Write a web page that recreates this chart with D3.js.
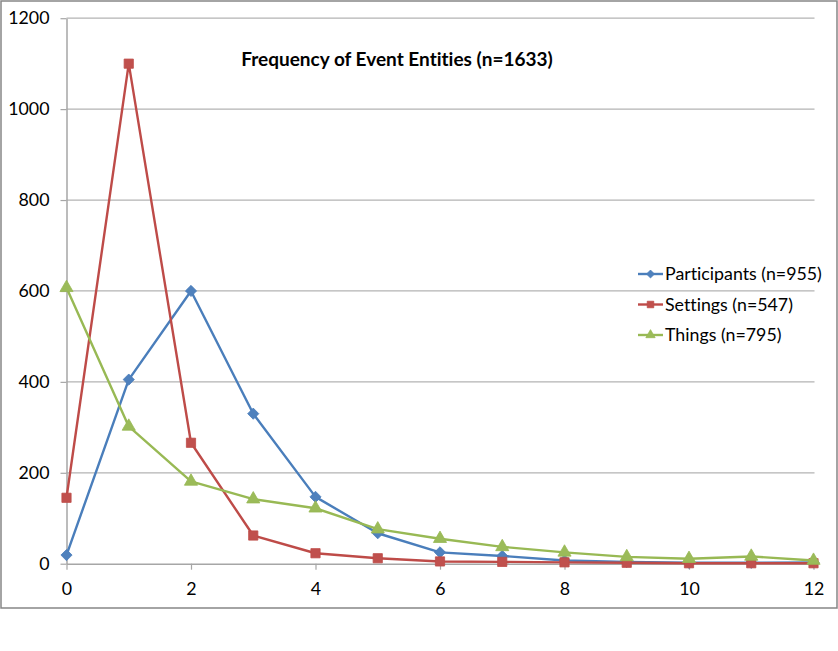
<!DOCTYPE html>
<html>
<head>
<meta charset="utf-8">
<script src="https://cdn.jsdelivr.net/npm/d3@7"></script>
<style>
  body { margin: 0; background: #fff; }
  svg text { font-family: Lato, "Open Sans", sans-serif; fill: #000; font-variant-ligatures: none; }
</style>
</head>
<body>
<svg id="chart" width="838" height="651"></svg>
<script>
'use strict';

/* chart data */
var counts = [0, 1, 2, 3, 4, 5, 6, 7, 8, 9, 10, 11, 12];
var participants = [19, 405, 600, 330, 147, 67, 25, 17, 7, 4, 2, 2, 3];
var settings = [145, 1100, 266, 62, 23, 12, 5, 4, 3, 2, 1, 1, 1];
var things = [607, 302, 181, 142, 122, 76, 55, 37, 25, 15, 11, 16, 7];
var seriesNames = ['Participants (n=955)', 'Settings (n=547)', 'Things (n=795)'];
var xTicks = [0, 2, 4, 6, 8, 10, 12];
var yTicks = [0, 200, 400, 600, 800, 1000, 1200];
var chartTitle = 'Frequency of Event Entities (n=1633)';

var svg = d3.select('#chart');

// outer frame of the chart
svg.append('rect')
  .attr('x', 1).attr('y', 1)
  .attr('width', 836).attr('height', 607)
  .attr('fill', '#fff')
  .attr('stroke', '#868686')
  .attr('stroke-width', 1.5);

var x = d3.scaleLinear().domain([0, 12]).range([66.5, 813.5]);
var y = d3.scaleLinear().domain([0, 1200]).range([563.7, 18.2]);

// horizontal gridlines
svg.append('g')
  .selectAll('line')
  .data(yTicks.slice(1))
  .enter()
  .append('line')
  .attr('x1', 66.5).attr('x2', 814.5)
  .attr('y1', function(d) { return y(d); })
  .attr('y2', function(d) { return y(d); })
  .attr('stroke', '#b3b3b3')
  .attr('stroke-width', 1.2);

// y axis
var yAxis = svg.append('g')
  .attr('transform', 'translate(66.5,0)')
  .call(d3.axisLeft(y).tickValues(yTicks).tickFormat(d3.format('d'))
    .tickSize(6).tickSizeOuter(0).tickPadding(11));
yAxis.selectAll('.tick text').attr('font-size', 17.8);

// x axis
var xAxis = svg.append('g')
  .attr('transform', 'translate(0,563.7)')
  .call(d3.axisBottom(x).tickValues(xTicks).tickSize(6).tickSizeOuter(0).tickPadding(13));
xAxis.selectAll('.tick text').attr('font-size', 17.8);

svg.selectAll('.domain').attr('stroke', '#a6a6a6').attr('stroke-width', 1.5);
svg.selectAll('.tick line').attr('stroke', '#a6a6a6').attr('stroke-width', 1.2);

var series = [
  { name: seriesNames[0], values: participants, line: '#4a7ebb', fill: '#4f81bd', symbol: d3.symbolDiamond2, size: 80 },
  { name: seriesNames[1], values: settings, line: '#be4b48', fill: '#c0504d', symbol: d3.symbolSquare, size: 85 },
  { name: seriesNames[2], values: things, line: '#98b954', fill: '#9bbb59', symbol: d3.symbolTriangle, size: 75 }
];

var line = d3.line()
  .x(function(d, i) { return x(counts[i]); })
  .y(function(d) { return y(d); });

series.forEach(function(s) {
  var g = svg.append('g');
  g.append('path')
    .attr('d', line(s.values))
    .attr('fill', 'none')
    .attr('stroke', s.line)
    .attr('stroke-width', 2.4)
    .attr('stroke-linejoin', 'round');

  g.selectAll('path.mark')
    .data(s.values)
    .enter()
    .append('path')
    .attr('class', 'mark')
    .attr('d', d3.symbol().type(s.symbol).size(s.size))
    .attr('transform', function(d, i) {
      return 'translate(' + x(counts[i]) + ',' + y(d) + ')';
    })
    .attr('fill', s.fill)
    .attr('stroke', s.line)
    .attr('stroke-width', 0.8);
});

// title
svg.append('text')
  .attr('x', 397).attr('y', 66)
  .attr('text-anchor', 'middle')
  .attr('font-size', 19)
  .attr('font-weight', 'bold')
  .text(chartTitle);

// legend
var legend = svg.append('g').attr('transform', 'translate(638,274)');
series.forEach(function(s, i) {
  var row = legend.append('g').attr('transform', 'translate(0,' + (i * 30.5) + ')');
  row.append('line')
    .attr('x1', 0).attr('x2', 25)
    .attr('stroke', s.line)
    .attr('stroke-width', 2.4);
  row.append('path')
    .attr('d', d3.symbol().type(s.symbol).size(s.size * 0.5))
    .attr('transform', 'translate(12.5,0)')
    .attr('fill', s.fill)
    .attr('stroke', s.line)
    .attr('stroke-width', 0.8);
  row.append('text')
    .attr('x', 27).attr('y', 0)
    .attr('dy', '0.35em')
    .attr('font-size', 17.8)
    .text(s.name);
});
</script>
</body>
</html>
